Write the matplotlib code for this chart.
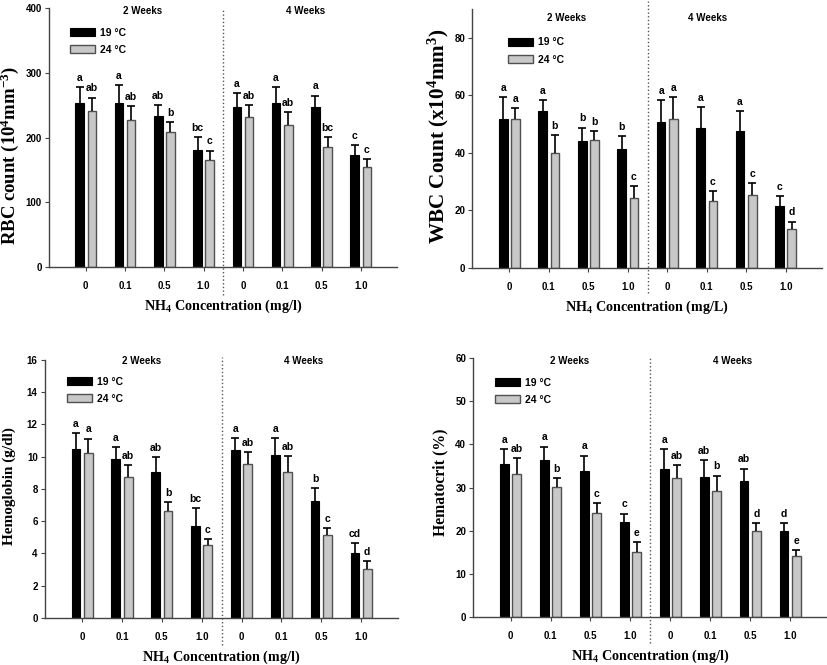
import numpy as np
import matplotlib
matplotlib.use('Agg')
import matplotlib.pyplot as plt

# data #
conc_labels = ['0', '0.1', '0.5', '1.0', '0', '0.1', '0.5', '1.0']
temps = ['19 \u00b0C', '24 \u00b0C']

rbc_19 = [254, 254, 233, 181, 247, 253, 247, 173]
rbc_19_err = [24, 27, 18, 20, 22, 25, 18, 16]
rbc_24 = [241, 227, 208, 165, 232, 219, 186, 155]
rbc_24_err = [21, 22, 16, 15, 18, 20, 15, 12]
rbc_19_let = ['a', 'a', 'ab', 'bc', 'a', 'a', 'a', 'c']
rbc_24_let = ['ab', 'ab', 'b', 'c', 'ab', 'ab', 'bc', 'c']

wbc_19 = [51.7, 54.7, 44.0, 41.5, 50.8, 48.7, 47.6, 21.4]
wbc_19_err = [7.6, 3.7, 4.8, 4.4, 7.6, 7.1, 7.0, 3.5]
wbc_24 = [51.7, 40.0, 44.5, 24.2, 51.7, 23.4, 25.2, 13.6]
wbc_24_err = [3.9, 6.1, 3.2, 4.4, 7.6, 3.3, 4.3, 2.5]
wbc_19_let = ['a', 'a', 'b', 'b', 'a', 'a', 'a', 'c']
wbc_24_let = ['a', 'b', 'b', 'c', 'a', 'c', 'c', 'd']

hb_19 = [10.5, 9.85, 9.08, 5.72, 10.44, 10.08, 7.23, 4.03]
hb_19_err = [0.98, 0.73, 0.9, 1.1, 0.7, 1.06, 0.84, 0.59]
hb_24 = [10.25, 8.73, 6.61, 4.51, 9.52, 9.04, 5.13, 3.06]
hb_24_err = [0.87, 0.73, 0.6, 0.38, 0.77, 0.98, 0.46, 0.45]
hb_19_let = ['a', 'a', 'ab', 'bc', 'a', 'a', 'b', 'cd']
hb_24_let = ['a', 'ab', 'b', 'c', 'ab', 'ab', 'c', 'd']

hct_19 = [35.4, 36.3, 33.9, 22.1, 34.2, 32.5, 31.5, 20.0]
hct_19_err = [3.5, 3.2, 3.5, 1.9, 4.7, 3.8, 2.9, 1.7]
hct_24 = [33.2, 30.1, 24.1, 15.2, 32.2, 29.2, 20.0, 14.2]
hct_24_err = [3.6, 2.2, 2.4, 2.1, 3.1, 3.6, 1.7, 1.4]
hct_19_let = ['a', 'a', 'a', 'c', 'a', 'ab', 'ab', 'd']
hct_24_let = ['ab', 'b', 'c', 'e', 'ab', 'b', 'd', 'e']

# style #
SANS = 'Liberation Sans'
SERIF = 'Liberation Serif'
GRAY = '#c8c8c8'
w = 0.22
off = 0.155

plt.rcParams['mathtext.fontset'] = 'custom'
plt.rcParams['mathtext.rm'] = 'Liberation Serif'
plt.rcParams['mathtext.bf'] = 'Liberation Serif:bold'
plt.rcParams['mathtext.it'] = 'Liberation Serif:italic'


def panel(ax, m19, e19, m24, e24, l19, l24, ymax, ystep, ylabel, xlabel,
          ylsize, leg_anchor, week_y, week_x, sep_lims):
    x = np.arange(len(m19))
    ax.bar(x - off, m19, w, color='black', edgecolor='black', linewidth=0.8,
           label=temps[0], zorder=2)
    ax.bar(x + off, m24, w, color=GRAY, edgecolor='#505050', linewidth=1.0,
           label=temps[1], zorder=2)
    for xs, m, e, lets in [(x - off, m19, e19, l19), (x + off, m24, e24, l24)]:
        eb = ax.errorbar(xs, m, yerr=[np.zeros(len(m)), e], fmt='none',
                         ecolor='black', elinewidth=1.2, capsize=3,
                         capthick=1.2, zorder=3)
        eb[1][0].set_visible(False)
        for xi, mi, ei, t in zip(xs, m, e, lets):
            ax.annotate(t, (xi, mi + ei), xytext=(0, 3),
                        textcoords='offset points', ha='center', va='bottom',
                        fontsize=7.5, fontweight='bold', family=SANS)

    ax.set_xlim(-0.94, 7.92)
    ax.set_ylim(0, ymax)
    ax.set_yticks(np.arange(0, ymax + 0.01, ystep))
    ax.set_xticks(x)
    ax.set_xticklabels(conc_labels)
    for lab in ax.get_xticklabels() + ax.get_yticklabels():
        lab.set_family(SANS)
        lab.set_fontweight('bold')
        lab.set_fontsize(7)
    ax.tick_params(axis='x', length=3, pad=7, color='#444444')
    ax.tick_params(axis='y', length=3, pad=2, color='#444444')
    for s in ['top', 'right']:
        ax.spines[s].set_visible(False)
    for s in ['left', 'bottom']:
        ax.spines[s].set_color('#444444')
        ax.spines[s].set_linewidth(1.0)

    ax.axvline(3.5, ymin=sep_lims[0], ymax=sep_lims[1], clip_on=False,
               color='#555555', linestyle=':', linewidth=1.0)

    tr = ax.get_xaxis_transform()
    ax.text(week_x[0], week_y, '2 Weeks', transform=tr, ha='center',
            va='center', fontsize=7, fontweight='bold', family=SANS)
    ax.text(week_x[1], week_y, '4 Weeks', transform=tr, ha='center',
            va='center', fontsize=7, fontweight='bold', family=SANS)

    ax.legend(loc='upper left', bbox_to_anchor=leg_anchor, frameon=False,
              borderpad=0, borderaxespad=0, handlelength=2.4,
              handleheight=0.8, labelspacing=0.7, handletextpad=0.5,
              prop={'family': SANS, 'weight': 'bold', 'size': 7.5})

    ax.set_ylabel(ylabel, family=SERIF, fontweight='bold', fontsize=ylsize,
                  va='center')
    ax.set_xlabel(xlabel, family=SERIF, fontweight='bold', fontsize=10.2,
                  labelpad=5)


fig = plt.figure(figsize=(8.27, 6.65), dpi=100)

ax1 = fig.add_axes([0.059, 0.5985, 0.421, 0.389])
panel(ax1, rbc_19, rbc_19_err, rbc_24, rbc_24_err, rbc_19_let, rbc_24_let,
      400, 100, r'RBC count (10$^{\mathbf{4}}$mm$^{\mathbf{-3}}$)',
      r'NH$_{\mathbf{4}}$ Concentration (mg/l)', 13.5, (0.06, 0.925),
      0.988, (1.45, 5.6), (-0.108, 1.0))
ax1.yaxis.set_label_coords(-0.112, 0.43)

ax2 = fig.add_axes([0.571, 0.597, 0.423, 0.3895])
panel(ax2, wbc_19, wbc_19_err, wbc_24, wbc_24_err, wbc_19_let, wbc_24_let,
      90, 20, r'WBC Count (x10$^{\mathbf{4}}$mm$^{\mathbf{3}}$)',
      r'NH$_{\mathbf{4}}$ Concentration (mg/L)', 15.2, (0.103, 0.89),
      0.965, (1.44, 5.03), (-0.096, 1.03))
ax2.set_yticks([0, 20, 40, 60, 80])
ax2.yaxis.set_label_coords(-0.097, 0.51)

ax3 = fig.add_axes([0.054, 0.0707, 0.427, 0.388])
panel(ax3, hb_19, hb_19_err, hb_24, hb_24_err, hb_19_let, hb_24_let,
      16, 2, 'Hemoglobin (g/dl)',
      r'NH$_{\mathbf{4}}$ Concentration (mg/l)', 11, (0.062, 0.935),
      0.996, (1.49, 5.56), (-0.105, 1.01))
ax3.yaxis.set_label_coords(-0.099, 0.51)

ax4 = fig.add_axes([0.572, 0.072, 0.428, 0.3895])
panel(ax4, hct_19, hct_19_err, hct_24, hct_24_err, hct_19_let, hct_24_let,
      60, 10, 'Hematocrit (%)',
      r'NH$_{\mathbf{4}}$ Concentration (mg/l)', 11.3, (0.062, 0.925),
      0.99, (1.48, 5.55), (-0.1, 1.0))
ax4.yaxis.set_label_coords(-0.093, 0.52)

fig.savefig('out.png', dpi=100)
